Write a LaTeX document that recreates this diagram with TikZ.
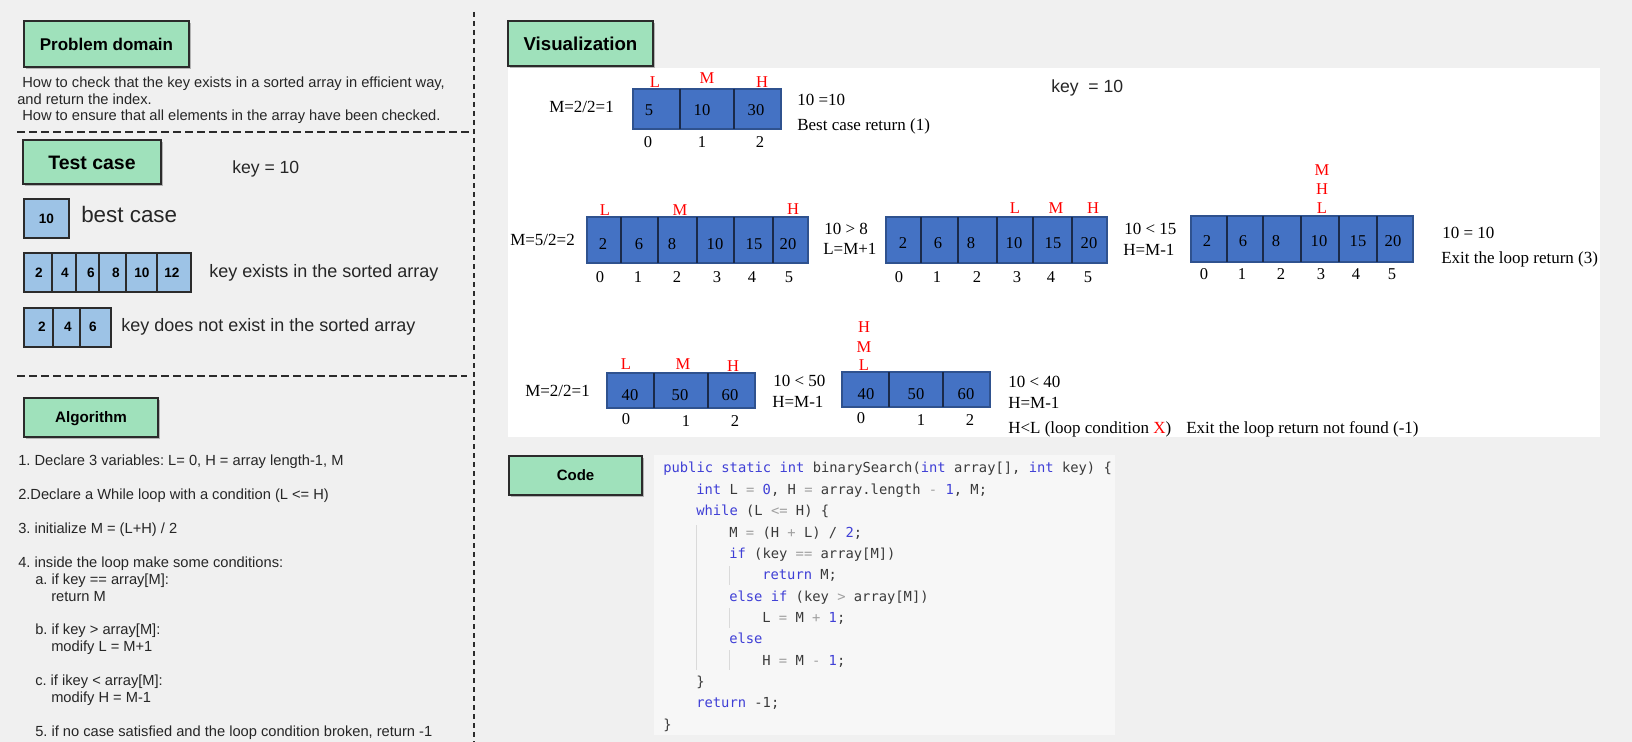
\documentclass[tikz,border=0pt]{standalone}
\usepackage{fontspec}
\setmainfont{Liberation Sans}
\newfontfamily\tmfont{Liberation Serif}
\newfontfamily\cdfont{DejaVu Sans Mono}
\usetikzlibrary{shadows}
\frenchspacing
\definecolor{bg}{HTML}{F0F0F0}
\definecolor{gfill}{HTML}{9FE1BB}
\definecolor{bfill}{HTML}{9DC3E6}
\definecolor{afill}{HTML}{4472C4}
\definecolor{aline}{HTML}{2F528F}
\definecolor{asepc}{HTML}{1A2A4A}
\definecolor{dk}{HTML}{2B2B2B}
\definecolor{kw}{HTML}{3F3FD6}
\definecolor{op}{HTML}{A0A0A0}
\definecolor{idf}{HTML}{3A3A3A}
\definecolor{codebg}{HTML}{F7F7F7}
\definecolor{guide}{HTML}{DADADA}
\newcommand\kwc[1]{\textcolor{kw}{#1}}
\newcommand\opc[1]{\textcolor{op}{#1}}
\begin{document}
\frenchspacing
\begin{tikzpicture}[x=0.75pt,y=-0.75pt,
  gbox/.style={draw=dk, line width=1.5pt, fill=gfill, inner sep=0pt,
    drop shadow={shadow xshift=1.2pt, shadow yshift=-1.2pt, opacity=0.25, fill=black}},
  lcell/.style={draw=dk, line width=1.5pt, fill=bfill},
  lsep/.style={draw=dk, line width=1.5pt},
  lnum/.style={anchor=base, inner sep=0pt, font=\bfseries\fontsize{10.2}{12}\selectfont},
  stxt/.style={anchor=base west, inner sep=0pt, font=\frenchspacing\fontsize{11}{13}\selectfont, text=black!85},
  mtxt/.style={anchor=base west, inner sep=0pt, font=\fontsize{13.5}{16}\selectfont, text=black!85},
  aarr/.style={fill=afill, draw=aline, line width=1pt},
  asep/.style={draw=asepc, line width=0.8pt},
  vtxt/.style={anchor=base west, inner sep=0pt, font=\tmfont\fontsize{12.75}{15}\selectfont},
  vnum/.style={anchor=base, inner sep=0pt, font=\tmfont\fontsize{12.4}{14}\selectfont},
  vlab/.style={vnum, text=red},
  ctxt/.style={anchor=base west, inner sep=0pt, font=\cdfont\fontsize{10.35}{12}\selectfont, text=idf},
  vdash/.style={draw=dk, line width=1.5pt, dash pattern=on 3.75pt off 3pt},
  hdash/.style={draw=dk, line width=1.5pt, dash pattern=on 6pt off 3pt},
  guideline/.style={draw=guide, line width=0.75pt}
]
\useasboundingbox (0,0) rectangle (1632,742);
\fill[bg] (0,0) rectangle (1632,742);

% ---------- separators ----------
\draw[vdash] (474,12) -- (474,742);
\draw[hdash] (17,132) -- (472,132);
\draw[hdash] (17,376) -- (467,376);

% ---------- Problem domain ----------
\node[gbox, minimum width=123.75pt, minimum height=34.5pt, text height=9.2pt, text depth=0pt,
  font=\bfseries\fontsize{12.75}{15}\selectfont] (pd) at (106.5,44) {Problem domain};
\node[stxt] (pd1) at (22,88) {How to check that the key exists in a sorted array in efficient way,};
\node[stxt] (pd2) at (17,104) {and return the index.};
\node[stxt] (pd3) at (22,121) {How to ensure that all elements in the array have been checked.};

% ---------- Test case ----------
\node[gbox, minimum width=103.5pt, minimum height=33pt, text height=10.5pt, text depth=0pt,
  font=\bfseries\fontsize{14.6}{17}\selectfont] (tc) at (92,162) {Test case};
\node[anchor=base west, inner sep=0pt, font=\fontsize{13.2}{15}\selectfont, text=black!85] (tckey) at (232,173) {key = 10};

\draw[lcell] (24,199) rectangle (69,238);
\node[lnum] (b10) at (46.5,223) {10};
\node[anchor=base west, inner sep=0pt, font=\fontsize{16.8}{19}\selectfont, text=black!85] (bc) at (81,222) {best case};

\draw[lcell] (24,253) rectangle (191,292);
\foreach \s in {52,76,99,126,157} \draw[lsep] (\s,253) -- (\s,292);
\foreach \x/\v in {39/2,65/4,91/6,116/8,142/10,172/12} \node[lnum] at (\x,277) {\v};
\node[mtxt] (ke) at (209,277) {key exists in the sorted array};

\draw[lcell] (24,308) rectangle (111,347);
\foreach \s in {53,80} \draw[lsep] (\s,308) -- (\s,347);
\foreach \x/\v in {42/2,68/4,93/6} \node[lnum] at (\x,331) {\v};
\node[mtxt] (kn) at (121,331) {key does not exist in the sorted array};

% ---------- Algorithm ----------
\node[gbox, minimum width=100.5pt, minimum height=29.25pt, text height=8.2pt, text depth=0pt,
  font=\bfseries\fontsize{11.4}{13}\selectfont] (alg) at (91,417.5) {Algorithm};
\node[stxt] (a1) at (18,465) {1. Declare 3 variables: L= 0, H = array length-1, M};
\node[stxt] (a2) at (18,499) {2.Declare a While loop with a condition (L <= H)};
\node[stxt] (a3) at (18,533) {3. initialize M = (L+H) / 2};
\node[stxt] (a4) at (18,567) {4. inside the loop make some conditions:};
\node[stxt] (a4a) at (35,584) {a. if key == array[M]:};
\node[stxt] (a4a2) at (51,601) {return M};
\node[stxt] (a4b) at (35,634) {b. if key > array[M]:};
\node[stxt] (a4b2) at (51,651) {modify L = M+1};
\node[stxt] (a4c) at (35,685) {c. if ikey < array[M]:};
\node[stxt] (a4c2) at (51,702) {modify H = M-1};
\node[stxt] (a5) at (35,736) {5. if no case satisfied and the loop condition broken, return -1};

% ---------- Visualization ----------
\node[gbox, minimum width=108.75pt, minimum height=33.75pt, text height=10pt, text depth=0pt,
  font=\bfseries\fontsize{14}{16}\selectfont] (vis) at (580.5,43.5) {Visualization};
\fill[white] (508,68) rectangle (1600,437);
\node[anchor=base west, inner sep=0pt, font=\fontsize{13.2}{15}\selectfont, text=black!85] (vkey) at (1051,93) {key\ \ = 10};

% row 1
\node[vtxt] (r1m) at (549,113) {M=2/2=1};
\draw[aarr] (633,89) rectangle (781,129);
\foreach \s in {680,734} \draw[asep] (\s,89) -- (\s,129);
\foreach \x/\v in {649/5,702/10,756/30} \node[vnum] at (\x,115) {\v};
\node[vlab] (r1L) at (655,88) {L};
\node[vlab] (r1M) at (707,84) {M};
\node[vlab] (r1H) at (762,88) {H};
\foreach \x/\v in {648/0,702/1,760/2} \node[vnum] at (\x,147) {\v};
\node[vtxt] (r1t1) at (797,105) {10 =10};
\node[vtxt] (r1t2) at (797,130) {Best case return (1)};

% row 2, array 1
\node[vtxt] (r2m) at (510,245) {M=5/2=2};
\draw[aarr] (587,217) rectangle (808,263);
\foreach \s in {621,658,697,734,773} \draw[asep] (\s,217) -- (\s,263);
\foreach \x/\v in {603/2,639/6,672/8,715/10,754/15,788/20} \node[vnum] at (\x,249) {\v};
\node[vlab] (r2aL) at (605,215) {L};
\node[vlab] (r2aM) at (680,215) {M};
\node[vlab] (r2aH) at (793,214) {H};
\foreach \x/\v in {600/0,638/1,677/2,717/3,752/4,789/5} \node[vnum] at (\x,282) {\v};
\node[vtxt] (r2t1) at (824,234) {10 > 8};
\node[vtxt] (r2t2) at (823,254) {L=M+1};

% row 2, array 2
\draw[aarr] (886,217) rectangle (1107,263);
\foreach \s in {921,958,997,1033,1072} \draw[asep] (\s,217) -- (\s,263);
\foreach \x/\v in {903/2,938/6,971/8,1014/10,1053/15,1089/20} \node[vnum] at (\x,248) {\v};
\node[vlab] (r2bL) at (1015,213) {L};
\node[vlab] (r2bM) at (1056,213) {M};
\node[vlab] (r2bH) at (1093,213) {H};
\foreach \x/\v in {899/0,937/1,977/2,1017/3,1051/4,1088/5} \node[vnum] at (\x,282) {\v};
\node[vtxt] (r2t3) at (1124,234) {10 < 15};
\node[vtxt] (r2t4) at (1123,255) {H=M-1};

% row 2, array 3
\draw[aarr] (1191,216) rectangle (1413,262);
\foreach \s in {1227,1263,1301,1339,1377} \draw[asep] (\s,216) -- (\s,262);
\foreach \x/\v in {1207/2,1243/6,1276/8,1319/10,1358/15,1393/20} \node[vnum] at (\x,246) {\v};
\node[vlab] (r2cM) at (1322,175) {M};
\node[vlab] (r2cH) at (1322,194) {H};
\node[vlab] (r2cL) at (1322,213) {L};
\foreach \x/\v in {1204/0,1242/1,1281/2,1321/3,1356/4,1392/5} \node[vnum] at (\x,279) {\v};
\node[vtxt] (r2t5) at (1442,238) {10 = 10};
\node[vtxt] (r2t6) at (1441,263) {Exit the loop return (3)};

% row 3, array 4
\node[vtxt] (r3m) at (525,396) {M=2/2=1};
\draw[aarr] (607,373) rectangle (755,408);
\foreach \s in {654,708} \draw[asep] (\s,373) -- (\s,408);
\foreach \x/\v in {630/40,680/50,730/60} \node[vnum] at (\x,400) {\v};
\node[vlab] (r3aL) at (626,369) {L};
\node[vlab] (r3aM) at (683,369) {M};
\node[vlab] (r3aH) at (733,371) {H};
\node[vnum] at (626,424) {0};
\node[vnum] at (686,426) {1};
\node[vnum] at (735,426) {2};
\node[vtxt] (r3t1) at (773,386) {10 < 50};
\node[vtxt] (r3t2) at (772,407) {H=M-1};

% row 3, array 5
\draw[aarr] (842,372) rectangle (990,407);
\foreach \s in {889,943} \draw[asep] (\s,372) -- (\s,407);
\foreach \x/\v in {866/40,916/50,966/60} \node[vnum] at (\x,399) {\v};
\node[vlab] (r3bH) at (864,332) {H};
\node[vlab] (r3bM) at (864,352) {M};
\node[vlab] (r3bL) at (864,370) {L};
\node[vnum] at (861,423) {0};
\node[vnum] at (921,425) {1};
\node[vnum] at (970,425) {2};
\node[vtxt] (r3t3) at (1008,387) {10 < 40};
\node[vtxt] (r3t4) at (1008,408) {H=M-1};
\node[vtxt] (r3t5) at (1008,433) {H<L (loop condition \textcolor{red}{X})};
\node[vtxt] (r3t6) at (1186,433) {Exit the loop return not found (-1)};

% ---------- Code ----------
\node[gbox, minimum width=99.75pt, minimum height=29.25pt, text height=8.1pt, text depth=0pt,
  font=\bfseries\fontsize{11.25}{13}\selectfont] (code) at (575.5,475.5) {Code};
\fill[codebg] (654,455) rectangle (1115,735);
\draw[guideline] (696,525) -- (696,670);
\draw[guideline] (729,566) -- (729,585);
\draw[guideline] (729,608) -- (729,628);
\draw[guideline] (729,650) -- (729,670);
\node[ctxt] (c1) at (663,472.5) {\kwc{public static int} binarySearch(\kwc{int} array[], \kwc{int} key) \{};
\node[ctxt] (c2) at (696,494) {\kwc{int} L \opc{=} \kwc{0}, H \opc{=} array.length \opc{-} \kwc{1}, M;};
\node[ctxt] (c3) at (696,515.5) {\kwc{while} (L \opc{<=} H) \{};
\node[ctxt] (c4) at (729,537) {M \opc{=} (H \opc{+} L) / \kwc{2};};
\node[ctxt] (c5) at (729,558) {\kwc{if} (key \opc{==} array[M])};
\node[ctxt] (c6) at (762,579.5) {\kwc{return} M;};
\node[ctxt] (c7) at (729,601) {\kwc{else if} (key \opc{>} array[M])};
\node[ctxt] (c8) at (762,622) {L \opc{=} M \opc{+} \kwc{1};};
\node[ctxt] (c9) at (729,643.5) {\kwc{else}};
\node[ctxt] (c10) at (762,665) {H \opc{=} M \opc{-} \kwc{1};};
\node[ctxt] (c11) at (696,686) {\}};
\node[ctxt] (c12) at (696,707.5) {\kwc{return} -1;};
\node[ctxt] (c13) at (663,729) {\}};
\end{tikzpicture}
\end{document}
